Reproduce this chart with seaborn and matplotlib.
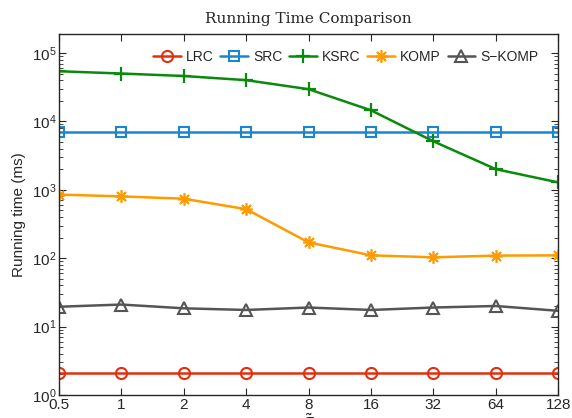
import matplotlib
matplotlib.use("Agg")
import matplotlib.pyplot as plt
import seaborn as sns
import numpy as np
import pandas as pd

x_labels = ["0.5", "1", "2", "4", "8", "16", "32", "64", "128"]
lrc = [2.1, 2.1, 2.1, 2.1, 2.1, 2.1, 2.1, 2.1, 2.1]
src = [7100, 7100, 7100, 7100, 7100, 7100, 7100, 7100, 7100]
ksrc = [54000, 50000, 46000, 40000, 29500, 14500, 5100, 2000, 1280]
komp = [850, 800, 740, 520, 170, 110, 103, 109, 110]
skomp = [19.5, 21, 18.5, 17.5, 19, 17.5, 19, 20, 17]

series = [
    ("LRC", lrc, "#E0300F", "o", 8, 1.5),
    ("SRC", src, "#1A86CC", "s", 6.5, 1.5),
    ("KSRC", ksrc, "#0A8A0A", "+", 10, 1.6),
    ("KOMP", komp, "#FF9A00", (8, 2, 0), 9, 1.2),
    ("S\u2212KOMP", skomp, "#555555", "^", 9, 1.5),
]

sns.set_style("ticks")
plt.rcParams["font.family"] = ["Liberation Sans", "DejaVu Sans"]

fig = plt.figure(figsize=(5.72, 4.18), dpi=100)
ax = fig.add_axes([0.103, 0.055, 0.873, 0.864])

pos = np.arange(len(x_labels))
for name, vals, col, mk, ms, mew in series:
    df = pd.DataFrame({"x": pos, "y": vals})
    sns.lineplot(data=df, x="x", y="y", ax=ax, color=col, marker=mk,
                 markersize=ms, markeredgewidth=mew, markerfacecolor="none",
                 markeredgecolor=col, linewidth=1.8, label=name)

ax.set_yscale("log")
ax.set_ylim(1, 1.9e5)
ax.set_xlim(0, 8)
ax.set_xticks(pos)
ax.set_xticklabels(x_labels, fontsize=11)
ax.tick_params(axis="both", direction="in", top=True, right=True, labelsize=11, length=5, pad=2)
ax.tick_params(axis="y", which="minor", direction="in", right=True, left=True, length=3)
ax.set_ylabel("Running time (ms)", fontsize=11, labelpad=4)
ax.set_xlabel(r"$\tilde{\sigma}$", fontsize=12, labelpad=1)
ax.set_title("Running Time Comparison", fontsize=11, family="DejaVu Serif", pad=8)
for s in ax.spines.values():
    s.set_linewidth(1.0)

ax.legend(loc="upper right", ncol=5, frameon=False, fontsize=10,
          handlelength=2.0, columnspacing=0.5, handletextpad=0.35,
          bbox_to_anchor=(0.985, 0.99))

fig.savefig("out.png", dpi=100)
